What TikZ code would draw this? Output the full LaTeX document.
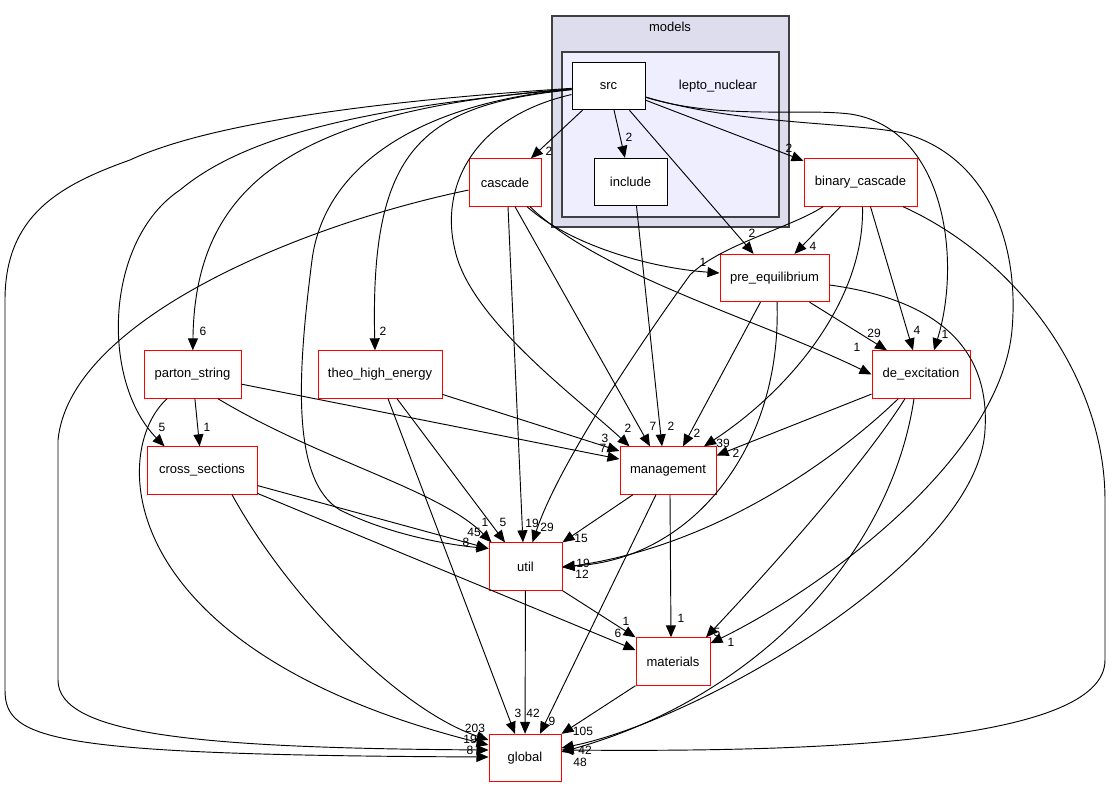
\documentclass[tikz,border=0pt]{standalone}
\usepackage{fontspec}
\setmainfont{Liberation Sans}
\usetikzlibrary{arrows.meta}
\definecolor{clfill}{HTML}{DDDDEE}
\definecolor{lnfill}{HTML}{EEEEFF}
\definecolor{clborder}{HTML}{404040}
\begin{document}
\begin{tikzpicture}[x=0.75pt,y=-0.75pt,
  box/.style={draw=red, fill=white, line width=0.75pt, minimum height=35.5pt, inner sep=0pt, font=\fontsize{9.75}{11}\selectfont},
  ibox/.style={box, draw=black},
  wd/.style={minimum width=#1*0.75pt},
  e/.style={draw=black, line width=0.7pt, -{Triangle[length=9pt,width=7.5pt]}},
  lbl/.style={font=\fontsize{9}{10}\selectfont, inner sep=0pt},
  clus/.style={draw=clborder, line width=1.1pt},
  cllbl/.style={font=\fontsize{9.75}{11}\selectfont, inner sep=0pt}]
\useasboundingbox (0,0) rectangle (1115,788);
% clusters
\draw[clus, fill=clfill] (552,16) rectangle (789,227);
\node[cllbl] (modelslbl) at (670,27) {models};
\draw[clus, fill=lnfill] (562,52) rectangle (779,217);
\node[cllbl] (leptolbl) at (718,86) {lepto\_nuclear};
% nodes
\node[ibox, wd=73] (src) at (608.5,86) {src};
\node[ibox, wd=73] (inc) at (630.5,182) {include};
\node[box, wd=72] (casc) at (505,182.5) {cascade};
\node[box, wd=113] (bc) at (860.5,182.5) {binary\_cascade};
\node[box, wd=109] (preeq) at (774.5,278) {pre\_equilibrium};
\node[box, wd=98] (deex) at (921,374.5) {de\_excitation};
\node[box, wd=97] (parton) at (192.5,374.5) {parton\_string};
\node[box, wd=124] (theo) at (380,374.5) {theo\_high\_energy};
\node[box, wd=110] (cross) at (202,470.5) {cross\_sections};
\node[box, wd=96] (mgmt) at (668,470.5) {management};
\node[box, wd=73] (util) at (525.5,566.5) {util};
\node[box, wd=74] (mat) at (673,661.5) {materials};
\node[box, wd=72] (glob) at (525,758) {global};
% edges from src
\draw[e] (src) -- (casc);
\draw[e] (src) -- (inc);
\draw[e] (src) -- (preeq);
\draw[e] (src) -- (bc);
\draw[e] (src) .. controls (300,110) and (195,180) .. (parton);
\draw[e] (src) .. controls (420,105) and (370,150) .. ([xshift=-3.75pt]theo.north);
\draw[e] (src) .. controls (350,108) and (240,140) .. (180,190) .. controls (105,240) and (100,380) .. ([xshift=13.5pt]cross.north west);
\draw[e] (src) .. controls (470,118) and (440,190) .. (455,250) .. controls (470,320) and (580,400) .. ([xshift=7.5pt]mgmt.north west);
\draw[e] (src) .. controls (430,102) and (325,160) .. (312,260) .. controls (298,370) and (290,480) .. (340,510) .. controls (390,535) and (450,545) .. ([yshift=13.5pt]util.west);
\draw[e] (src) .. controls (720,120) and (800,108) .. (850,114) .. controls (945,128) and (962,260) .. ([xshift=9.75pt]deex.north);
\draw[e] (src) .. controls (740,125) and (850,122) .. (903,133) .. controls (985,155) and (1020,240) .. (1012,330) .. controls (1000,460) and (820,590) .. (mat);
\draw[e] (src) .. controls (420,98) and (220,118) .. (130,160) .. controls (60,185) and (5,215) .. (5,300) -- (5,690) .. controls (5,740) and (50,755) .. ([yshift=0.75pt]glob.west);
% cascade
\draw[e] (casc) .. controls (300,225) and (70,320) .. (58,440) -- (58,680) .. controls (58,735) and (200,748) .. ([yshift=6pt]glob.west);
\draw[e] ([xshift=2.25pt]casc.south) -- ([xshift=-1.9pt]util.north);
\draw[e] ([xshift=7.5pt]casc.south) -- ([xshift=-13.5pt]mgmt.north);
\draw[e] ([xshift=16.5pt]casc.south) .. controls (570,245) and (650,268) .. ([yshift=3.75pt]preeq.west);
\draw[e] ([xshift=18.75pt]casc.south) .. controls (600,275) and (760,320) .. (deex.west);
% include
\draw[e] ([xshift=4.5pt]inc.south) -- ([xshift=-4.5pt]mgmt.north);
% binary_cascade
\draw[e] ([xshift=-15pt]bc.south) -- ([xshift=15pt]preeq.north);
\draw[e] ([xshift=-28pt]bc.south) .. controls (790,228) and (720,245) .. (690,275) .. controls (650,330) and (560,460) .. ([xshift=5.25pt]util.north);
\draw[e] ([xshift=1.5pt]bc.south) .. controls (865,300) and (790,390) .. ([xshift=27pt]mgmt.north);
\draw[e] ([xshift=7.5pt]bc.south) -- ([xshift=-6pt]deex.north);
\draw[e] ([xshift=31.9pt]bc.south) .. controls (1020,260) and (1105,380) .. (1105,500) -- (1105,660) .. controls (1105,745) and (800,752) .. ([yshift=6pt]glob.east);
% pre_equilibrium
\draw[e] ([xshift=-10.5pt]preeq.south) -- ([xshift=11.25pt]mgmt.north);
\draw[e] ([xshift=26.25pt]preeq.south) -- ([xshift=-25.5pt]deex.north);
\draw[e] ([xshift=1.9pt]preeq.south) .. controls (782,450) and (690,560) .. (util.east);
\draw[e] ([yshift=-5.25pt]preeq.east) .. controls (940,300) and (990,350) .. (985,430) .. controls (978,560) and (700,720) .. ([yshift=7.5pt]glob.east);
% de_excitation
\draw[e] (deex) -- ([yshift=11.25pt]mgmt.east);
\draw[e] ([xshift=-17pt]deex.south) .. controls (840,455) and (720,545) .. ([yshift=-0.75pt]util.east);
\draw[e] ([xshift=-12pt]deex.south) .. controls (860,470) and (760,580) .. ([xshift=24.75pt]mat.north);
\draw[e] ([xshift=-5.25pt]deex.south) .. controls (890,560) and (750,700) .. ([yshift=4.5pt]glob.east);
% parton_string
\draw[e] (parton) -- (cross);
\draw[e] (parton) -- ([yshift=8.6pt]mgmt.west);
\draw[e] ([xshift=19pt]parton.south) .. controls (320,460) and (440,490) .. ([xshift=2.25pt]util.north west);
\draw[e] ([xshift=-19pt]parton.south) .. controls (110,450) and (110,650) .. ([yshift=9.75pt]glob.west);
% theo_high_energy
\draw[e] (theo) -- ([yshift=14.6pt]mgmt.west);
\draw[e] ([xshift=12.75pt]theo.south) -- ([xshift=-15.4pt]util.north);
\draw[e] ([xshift=6pt]theo.south) -- ([xshift=-7.5pt]glob.north);
% cross_sections
\draw[e] (cross) -- ([yshift=13.5pt]util.west);
\draw[e] (cross) -- ([yshift=8.6pt]mat.west);
\draw[e] ([xshift=22.5pt]cross.south) .. controls (290,600) and (400,710) .. ([yshift=13.5pt]glob.west);
% management
\draw[e] ([xshift=-26.25pt]mgmt.south) -- (util.north east);
\draw[e] ([xshift=-9pt]mgmt.south) -- ([xshift=11.25pt]glob.north);
\draw[e] ([xshift=1.5pt]mgmt.south) -- ([xshift=-1.5pt]mat.north);
% util
\draw[e] (util) -- (glob);
\draw[e] (util.south east) -- (mat.north west);
% materials
\draw[e] (mat.south west) -- (glob.north east);
% labels
\node[lbl] (l1) at (549,151) {2};
\node[lbl] (l2) at (629,137) {2};
\node[lbl] (l3) at (752,233) {2};
\node[lbl] (l4) at (789,148) {2};
\node[lbl] (l5) at (203,331) {6};
\node[lbl] (l6) at (383,331) {2};
\node[lbl] (l7) at (162,427) {5};
\node[lbl] (l8) at (628,428) {2};
\node[lbl] (l9) at (474,532) {45};
\node[lbl] (l10) at (945,334) {1};
\node[lbl] (l11) at (731,642) {1};
\node[lbl] (l12) at (470,750) {8};
\node[lbl] (l13) at (475,728) {203};
\node[lbl] (l14) at (470,739) {19};
\node[lbl] (l15) at (480,738) {7};
\node[lbl] (l16) at (485,522) {1};
\node[lbl] (l17) at (503,522) {5};
\node[lbl] (l18) at (532,523) {19};
\node[lbl] (l19) at (547,527) {29};
\node[lbl] (l20) at (581,538) {15};
\node[lbl] (l21) at (466,542) {8};
\node[lbl] (l22) at (583,563) {19};
\node[lbl] (l23) at (582,574) {12};
\node[lbl] (l24) at (653,426) {7};
\node[lbl] (l25) at (671,426) {2};
\node[lbl] (l26) at (697,433) {2};
\node[lbl] (l27) at (723,443) {39};
\node[lbl] (l28) at (736,453) {2};
\node[lbl] (l29) at (605,438) {3};
\node[lbl] (l30) at (603,448) {7};
\node[lbl] (l31) at (813,246) {4};
\node[lbl] (l32) at (703,262) {1};
\node[lbl] (l33) at (874,333) {29};
\node[lbl] (l34) at (857,347) {1};
\node[lbl] (l35) at (917,330) {4};
\node[lbl] (l36) at (207,427) {1};
\node[lbl] (l37) at (626,621) {1};
\node[lbl] (l38) at (618,633) {6};
\node[lbl] (l39) at (681,618) {1};
\node[lbl] (l40) at (717,632) {5};
\node[lbl] (l41) at (518,713) {3};
\node[lbl] (l42) at (533,713) {42};
\node[lbl] (l43) at (552,721) {9};
\node[lbl] (l44) at (583,731) {105};
\node[lbl] (l45) at (585,750) {42};
\node[lbl] (l46) at (580,762) {48};
\end{tikzpicture}
\end{document}
